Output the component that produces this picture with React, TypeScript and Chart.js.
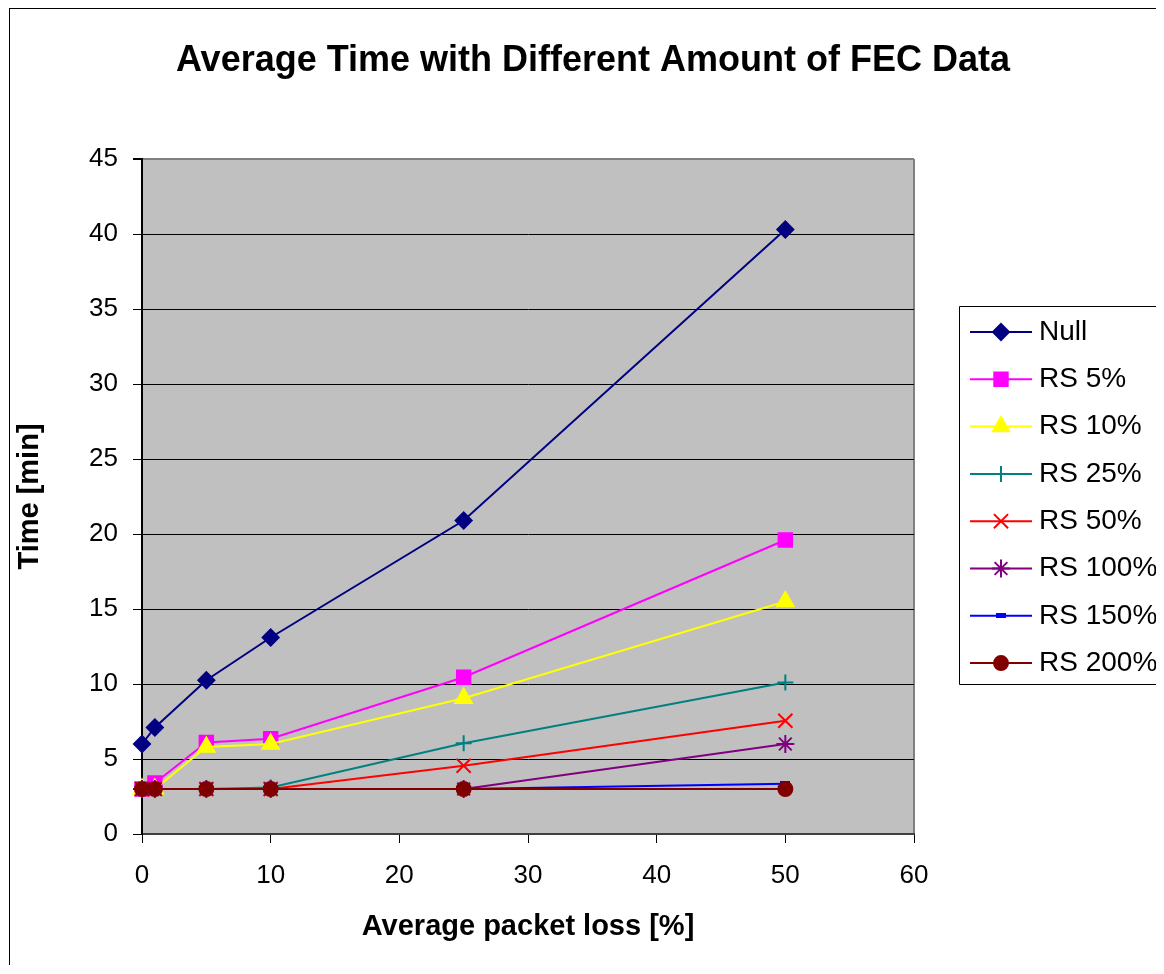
import React, { useEffect, useRef } from 'react';
import { Chart, registerables } from 'chart.js';
import { drawPoint } from 'chart.js/helpers';

Chart.register(...registerables);

const FONT = '"Liberation Sans", Arial, sans-serif';

const chartTitle = 'Average Time with Different Amount of FEC Data';
const xAxisTitle = 'Average packet loss [%]';
const yAxisTitle = 'Time [min]';

const packetLoss = [0, 1, 5, 10, 25, 50];

const seriesNames = ['Null', 'RS 5%', 'RS 10%', 'RS 25%', 'RS 50%', 'RS 100%', 'RS 150%', 'RS 200%'];
const nullValues = [6.0, 7.1, 10.25, 13.1, 20.9, 40.3];
const rs5Values = [3.0, 3.4, 6.1, 6.35, 10.45, 19.6];
const rs10Values = [3.0, 3.0, 5.8, 6.0, 9.05, 15.5];
const rs25Values = [3.0, 3.0, 3.0, 3.1, 6.05, 10.1];
const rs50Values = [3.0, 3.0, 3.0, 3.0, 4.55, 7.55];
const rs100Values = [3.0, 3.0, 3.0, 3.0, 3.0, 6.0];
const rs150Values = [3.0, 3.0, 3.0, 3.0, 3.0, 3.35];
const rs200Values = [3.0, 3.0, 3.0, 3.0, 3.0, 3.0];

const seriesValues = [nullValues, rs5Values, rs10Values, rs25Values, rs50Values, rs100Values, rs150Values, rs200Values];
const seriesColors = ['#000080', '#FF00FF', '#FFFF00', '#008080', '#FF0000', '#800080', '#0000FF', '#800000'];
const seriesPointStyles = ['rectRot', 'rect', 'triangle', 'cross', 'crossRot', 'star', 'dash', 'circle'];
const seriesPointRadius = [8, 9.5, 9.5, 8, 10, 9, 5, 7];

const xTickStep = 10;
const yTickStep = 5;

function makeDash(color: string) {
  const c = document.createElement('canvas');
  c.width = 10;
  c.height = 5;
  const g = c.getContext('2d')!;
  g.fillStyle = color;
  g.fillRect(0, 0, 10, 5);
  return c;
}

export default function App() {
  const ref = useRef<HTMLCanvasElement>(null);

  useEffect(() => {
    const styles: any[] = seriesPointStyles.map((s, i) => (s === 'dash' ? makeDash(seriesColors[i]) : s));

    const datasets = seriesNames.map((name, i) => ({
      label: name,
      data: packetLoss.map((x, j) => ({ x, y: seriesValues[i][j] })),
      borderColor: seriesColors[i],
      backgroundColor: seriesColors[i],
      borderWidth: 2,
      pointStyle: styles[i],
      pointRadius: seriesPointRadius[i],
      pointHoverRadius: seriesPointRadius[i],
      pointBorderWidth: 2,
      pointBorderColor: seriesColors[i],
      pointBackgroundColor: seriesColors[i],
      tension: 0,
      clip: false as any,
      order: seriesNames.length - 1 - i,
      xAxisID: 'x',
      yAxisID: 'y',
    }));

    const framePlugin = {
      id: 'frame',
      beforeDraw(chart: any) {
        const { ctx, chartArea: a } = chart;
        ctx.save();
        ctx.fillStyle = '#ffffff';
        ctx.fillRect(0, 0, chart.width, chart.height);
        ctx.fillStyle = '#000000';
        ctx.fillRect(1, 0, chart.width, 1);
        ctx.fillRect(1, 0, 1, chart.height);
        ctx.fillStyle = '#C0C0C0';
        ctx.fillRect(a.left, a.top, a.right - a.left, a.bottom - a.top);
        ctx.strokeStyle = '#808080';
        ctx.lineWidth = 2;
        ctx.beginPath();
        ctx.moveTo(a.right, a.top);
        ctx.lineTo(a.right, a.bottom);
        ctx.stroke();
        ctx.restore();
      },
      afterDraw(chart: any) {
        const { ctx } = chart;
        ctx.save();
        const boxLeft = 951.5;
        const boxTop = 298.5;
        const boxBottom = 676.5;
        ctx.strokeStyle = '#000000';
        ctx.lineWidth = 1;
        ctx.beginPath();
        ctx.moveTo(chart.width + 5, boxTop);
        ctx.lineTo(boxLeft, boxTop);
        ctx.lineTo(boxLeft, boxBottom);
        ctx.lineTo(chart.width + 5, boxBottom);
        ctx.stroke();
        const firstY = 324;
        const step = 47.3;
        chart.data.datasets.forEach((ds: any, i: number) => {
          const cy = firstY + i * step;
          ctx.strokeStyle = ds.borderColor;
          ctx.lineWidth = 2;
          ctx.beginPath();
          ctx.moveTo(962, cy);
          ctx.lineTo(1024, cy);
          ctx.stroke();
          ctx.fillStyle = ds.backgroundColor;
          ctx.strokeStyle = ds.borderColor;
          drawPoint(ctx, { pointStyle: ds.pointStyle, radius: ds.pointRadius, borderWidth: 2, rotation: 0 } as any, 993, cy);
          ctx.fillStyle = '#000000';
          ctx.font = `28px ${FONT}`;
          ctx.textAlign = 'left';
          ctx.textBaseline = 'middle';
          ctx.fillText(ds.label, 1031, cy);
        });
        ctx.restore();
      },
    };

    const chart = new Chart(ref.current!, {
      type: 'line',
      data: { datasets },
      plugins: [framePlugin],
      options: {
        animation: false,
        responsive: false,
        devicePixelRatio: 1,
        layout: { padding: { left: 14, right: 0, top: 0, bottom: 0 } },
        plugins: {
          legend: { display: false },
          tooltip: { enabled: false },
          title: {
            display: true,
            text: chartTitle,
            color: '#000000',
            font: { family: FONT, size: 36, weight: 'bold', lineHeight: 1.2 },
            padding: { top: 31, bottom: 76.8 },
          },
        },
        scales: {
          x: {
            type: 'linear',
            position: 'bottom',
            min: 0,
            max: 60,
            afterFit: (s: any) => { s.height = 131; },
            ticks: { stepSize: xTickStep, color: '#000000', font: { family: FONT, size: 26 }, padding: 17.4, maxRotation: 0 },
            grid: { display: true, drawOnChartArea: false, drawTicks: true, tickLength: 9, color: '#000000', tickColor: '#000000' },
            border: { display: true, color: '#404040', width: 2 },
            title: {
              display: true,
              text: xAxisTitle,
              color: '#000000',
              font: { family: FONT, size: 29, weight: 'bold', lineHeight: 1.2 },
              padding: { top: 0, bottom: 20.6 },
            },
          },
          y: {
            type: 'linear',
            position: 'left',
            min: 0,
            max: 45,
            afterFit: (s: any) => { s.width = 120; },
            ticks: { stepSize: yTickStep, color: '#000000', font: { family: FONT, size: 26 }, padding: 15 },
            grid: {
              display: true,
              drawOnChartArea: true,
              drawTicks: true,
              tickLength: 9,
              color: (c: any) => (c.tick && c.tick.value === 45 ? '#808080' : '#000000'),
              lineWidth: (c: any) => (c.tick && c.tick.value === 45 ? 2 : 1),
              tickColor: '#000000',
            },
            border: { display: true, color: '#000000', width: 2 },
            title: {
              display: true,
              text: yAxisTitle,
              color: '#000000',
              font: { family: FONT, size: 29, weight: 'bold', lineHeight: 0.5 },
              padding: { top: 0.75, bottom: 0 },
            },
          },
          yRight: {
            type: 'linear',
            position: 'right',
            display: true,
            afterFit: (s: any) => { s.width = 250; },
            ticks: { display: false },
            grid: { display: false },
            border: { display: false },
          },
        },
      } as any,
    });
    return () => chart.destroy();
  }, []);

  return (
    <div style={{ width: 1156, height: 957 }}>
      <canvas ref={ref} width={1156} height={957} style={{ display: 'block' }} />
    </div>
  );
}
